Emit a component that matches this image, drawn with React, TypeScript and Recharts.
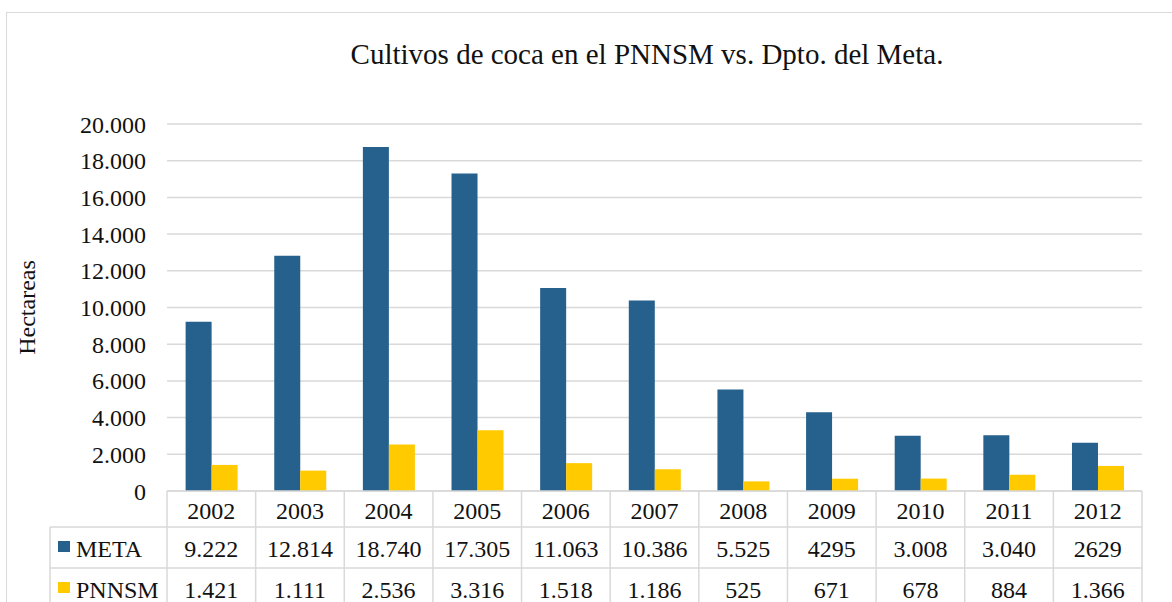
import { Bar, BarChart, CartesianGrid, XAxis, YAxis } from "recharts";

const YEARS = ["2002", "2003", "2004", "2005", "2006", "2007", "2008", "2009", "2010", "2011", "2012"];
const META = [9222, 12814, 18740, 17305, 11063, 10386, 5525, 4295, 3008, 3040, 2629];
const PNNSM = [1421, 1111, 2536, 3316, 1518, 1186, 525, 671, 678, 884, 1366];
const META_LABELS = ["9.222", "12.814", "18.740", "17.305", "11.063", "10.386", "5.525", "4295", "3.008", "3.040", "2629"];
const PNNSM_LABELS = ["1.421", "1.111", "2.536", "3.316", "1.518", "1.186", "525", "671", "678", "884", "1.366"];
const Y_TICKS = [0, 2000, 4000, 6000, 8000, 10000, 12000, 14000, 16000, 18000, 20000];

const BLUE = "#25618c";
const YELLOW = "#ffca00";
const GRID = "#d9d9d9";
const INK = "#111";
const FONT = "Liberation Serif, Times New Roman, serif";

const W = 1172;
const H = 602;
const PLOT_LEFT = 167;
const PLOT_RIGHT = 1142;
const PLOT_TOP = 124;
const PLOT_BOTTOM = 491;
const BAND = (PLOT_RIGHT - PLOT_LEFT) / YEARS.length;

const data = YEARS.map((year, i) => ({ year, meta: META[i], pnnsm: PNNSM[i] }));

const fmt = (v: number) => (v === 0 ? "0" : `${Math.floor(v / 1000)}.${String(v % 1000).padStart(3, "0")}`);

// x-axis tick drawn as one column of the data table under the plot
function TableColumn({ x, payload }: { x?: number; payload?: { index: number } }) {
  const i = payload?.index ?? 0;
  const cx = Number(x);
  const right = cx + BAND / 2;
  const line = { stroke: GRID, strokeWidth: 1.5 };
  const txt = { style: { fontFamily: FONT }, fontSize: 24, fill: INK, textAnchor: "middle" as const };
  return (
    <g>
      {i === 0 && (
        <g>
          <line x1={PLOT_LEFT} x2={PLOT_LEFT} y1={PLOT_BOTTOM} y2={H + 10} {...line} />
          <line x1={50} x2={50} y1={527} y2={H + 10} {...line} />
          <line x1={50} x2={PLOT_RIGHT} y1={527} y2={527} {...line} />
          <line x1={50} x2={PLOT_RIGHT} y1={568} y2={568} {...line} />
          <line x1={PLOT_LEFT} x2={PLOT_RIGHT} y1={PLOT_BOTTOM} y2={PLOT_BOTTOM} {...line} />
          <rect x={58} y={541} width={12} height={11} fill={BLUE} />
          <text x={76} y={557} {...txt} textAnchor="start">META</text>
          <rect x={58} y={582} width={12} height={11} fill={YELLOW} />
          <text x={76} y={598} {...txt} textAnchor="start">PNNSM</text>
        </g>
      )}
      <line x1={right} x2={right} y1={PLOT_BOTTOM} y2={H + 10} {...line} />
      <text x={cx} y={519} {...txt}>{YEARS[i]}</text>
      <text x={cx} y={557} {...txt}>{META_LABELS[i]}</text>
      <text x={cx} y={598} {...txt}>{PNNSM_LABELS[i]}</text>
    </g>
  );
}

export default function App() {
  return (
    <div style={{ position: "absolute", left: 0, top: 0, width: W, height: H, overflow: "hidden", background: "#fff", fontFamily: FONT }}>
      <div style={{ position: "absolute", left: 6, top: 12, width: 1300, height: 800, border: `1.5px solid ${GRID}` }} />
      <div style={{ position: "absolute", left: 0, top: 0 }}>
        <BarChart
          width={W}
          height={H}
          data={data}
          barGap={0}
          barCategoryGap="21%"
          margin={{ top: PLOT_TOP, right: W - PLOT_RIGHT, bottom: 0, left: 0 }}
          style={{ fontFamily: FONT }}
        >
          <text x={647} y={64} textAnchor="middle" style={{ fontFamily: FONT }} fontSize={29} fill={INK}>
            Cultivos de coca en el PNNSM vs. Dpto. del Meta.
          </text>
          <CartesianGrid stroke={GRID} strokeWidth={1.5} vertical={false} />
          <XAxis
            dataKey="year"
            height={H - PLOT_BOTTOM}
            interval={0}
            axisLine={false}
            tickLine={false}
            tickSize={0}
            tickMargin={0}
            tick={<TableColumn />}
          />
          <YAxis
            width={PLOT_LEFT}
            domain={[0, 20000]}
            ticks={Y_TICKS}
            tickFormatter={fmt}
            axisLine={false}
            tickLine={false}
            tickSize={0}
            tickMargin={21}
            tick={{ fill: INK, fontSize: 24, style: { fontFamily: FONT } }}
            label={{ value: "Hectareas", angle: -90, position: "center", dx: -57, fill: INK, fontSize: 24 }}
          />
          <Bar dataKey="meta" name="META" fill={BLUE} isAnimationActive={false} />
          <Bar dataKey="pnnsm" name="PNNSM" fill={YELLOW} isAnimationActive={false} />
        </BarChart>
      </div>
    </div>
  );
}
